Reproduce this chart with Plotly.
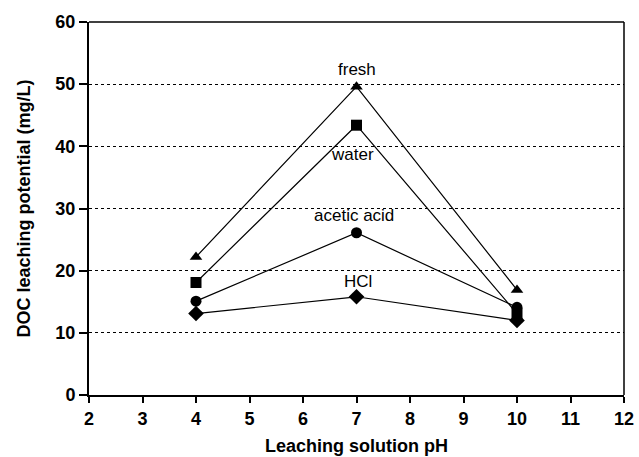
import plotly.graph_objects as go

ph = [4, 7, 10]
fresh = [22.2, 49.6, 16.9]
water = [18.1, 43.4, 13.1]
acetic_acid = [15.1, 26.1, 14.1]
hcl = [13.1, 15.8, 12.0]

x_ticks = list(range(2, 13))
y_ticks = [0, 10, 20, 30, 40, 50, 60]

series = [
    ("fresh", fresh, "triangle-up"),
    ("water", water, "square"),
    ("acetic acid", acetic_acid, "circle"),
    ("HCl", hcl, "diamond"),
]

labels = [
    ("fresh", 7.0, 52.4),
    ("water", 6.93, 38.7),
    ("acetic acid", 6.95, 28.8),
    ("HCl", 7.03, 18.3),
]

FONT = "Liberation Sans, Arial, sans-serif"

fig = go.Figure()
for name, vals, sym in series:
    fig.add_trace(go.Scatter(
        x=ph, y=vals, mode="lines+markers", name=name,
        line=dict(color="black", width=1.2),
        marker=dict(symbol=sym, size=11 if sym != "diamond" else 12, color="black"),
        showlegend=False,
    ))

for text, x, y in labels:
    fig.add_annotation(x=x, y=y, text=text, showarrow=False,
                       font=dict(family=FONT, size=17, color="black"))

fig.add_shape(type="line", xref="x domain", yref="y domain", x0=0, x1=1, y0=1, y1=1,
              line=dict(color="black", width=1.5))
fig.add_shape(type="line", xref="x domain", yref="y domain", x0=1, x1=1, y0=0, y1=1,
              line=dict(color="black", width=1.5))

fig.update_layout(
    width=639, height=457,
    margin=dict(l=89, r=15, t=22, b=62, autoexpand=False),
    paper_bgcolor="white", plot_bgcolor="white",
    font=dict(family=FONT, color="black"),
    xaxis=dict(
        range=[2, 12], tickvals=x_ticks, ticktext=[str(v) for v in x_ticks],
        showgrid=False, zeroline=False, automargin=False,
        showline=True, linecolor="black", linewidth=2,
        ticks="outside", ticklen=6, tickwidth=2, tickcolor="black",
        tickfont=dict(family=FONT, size=18, color="black", weight=700),
        title=dict(text="<b>Leaching solution pH</b>", standoff=12,
                   font=dict(family=FONT, size=18, color="black")),
    ),
    yaxis=dict(
        range=[0, 60], tickvals=y_ticks, ticktext=[str(v) for v in y_ticks],
        showgrid=True, gridcolor="black", griddash="dot", gridwidth=1,
        zeroline=False, automargin=False,
        showline=True, linecolor="black", linewidth=2,
        ticks="outside", ticklen=8, tickwidth=2, tickcolor="black",
        tickfont=dict(family=FONT, size=18, color="black", weight=700),
        title=dict(text="<b>DOC leaching potential (mg/L)</b>", standoff=20,
                   font=dict(family=FONT, size=18, color="black")),
    ),
)

fig.write_html("out.html")
